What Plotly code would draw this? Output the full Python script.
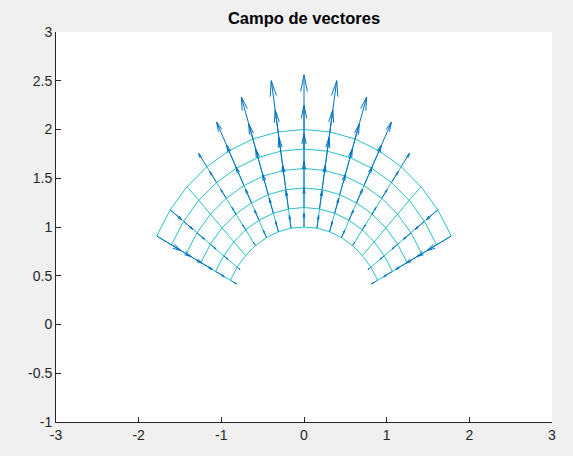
import math
import plotly.graph_objects as go

# ---- data ----
ray_angles_deg = [27, 36, 45, 54, 63, 72, 81, 90, 99, 108, 117, 126, 135, 144, 153]
radii = [1.0, 1.2, 1.4, 1.6, 1.8, 2.0]
# relative strength of the radial field along each ray (+ outward, - inward)
ray_gain = [-0.59, -0.31, 0.0, 0.31, 0.59, 0.81, 0.95, 1.0,
            0.95, 0.81, 0.59, 0.31, 0.0, -0.31, -0.59]
# arrow length on the vertical ray for each radius (data units)
radius_len = [0.14, 0.20, 0.27, 0.36, 0.45, 0.56]

x_ticks = [-3, -2, -1, 0, 1, 2, 3]
x_tick_text = ["-3", "-2", "-1", "0", "1", "2", "3"]
y_ticks = [-1, -0.5, 0, 0.5, 1, 1.5, 2, 2.5, 3]
y_tick_text = ["-1", "-0.5", "0", "0.5", "1", "1.5", "2", "2.5", "3"]

MESH_COLOR = "#27C0C7"
ARROW_COLOR = "#0072BD"
AXIS_COLOR = "#262626"

# ---- mesh ----
mx, my = [], []
for r in radii:  # arcs (polygonal through mesh nodes)
    for a in ray_angles_deg:
        t = math.radians(a)
        mx.append(r * math.cos(t)); my.append(r * math.sin(t))
    mx.append(None); my.append(None)
for a in ray_angles_deg:  # radial lines
    t = math.radians(a)
    for r in (radii[0], radii[-1]):
        mx.append(r * math.cos(t)); my.append(r * math.sin(t))
    mx.append(None); my.append(None)

# ---- quiver arrows ----
alpha, beta = 0.30, 0.24
ax_, ay_ = [], []
for a, g in zip(ray_angles_deg, ray_gain):
    t = math.radians(a)
    for r, L in zip(radii, radius_len):
        x0, y0 = r * math.cos(t), r * math.sin(t)
        u, v = g * L * math.cos(t), g * L * math.sin(t)
        x1, y1 = x0 + u, y0 + v
        ax_ += [x0, x1, None]
        ay_ += [y0, y1, None]
        if g != 0:
            ax_ += [x1 - alpha * (u + beta * v), x1, x1 - alpha * (u - beta * v), None]
            ay_ += [y1 - alpha * (v - beta * u), y1, y1 - alpha * (v + beta * u), None]

fig = go.Figure()
fig.add_trace(go.Scatter(x=mx, y=my, mode="lines",
                         line=dict(color=MESH_COLOR, width=1), hoverinfo="skip"))
fig.add_trace(go.Scatter(x=ax_, y=ay_, mode="lines",
                         line=dict(color=ARROW_COLOR, width=1), hoverinfo="skip"))

font = dict(family="Liberation Sans, Arial, sans-serif", size=14, color=AXIS_COLOR)
fig.update_layout(
    width=573, height=456,
    margin=dict(l=56, r=21, t=32, b=34),
    paper_bgcolor="#F0F0F0", plot_bgcolor="#FFFFFF",
    showlegend=False,
    font=font,
    title=dict(text="<b>Campo de vectores</b>", x=304 / 573, xanchor="center",
               y=1 - 18 / 456, yanchor="middle",
               font=dict(family="Liberation Sans, Arial, sans-serif", size=16.5, color="#000000")),
    xaxis=dict(range=[-3, 3], tickvals=x_ticks, ticktext=x_tick_text,
               ticks="inside", ticklen=5, tickcolor=AXIS_COLOR, showline=True,
               linecolor=AXIS_COLOR, linewidth=1, showgrid=False, zeroline=False,
               mirror=False, automargin=False, fixedrange=True),
    yaxis=dict(range=[-1, 3], tickvals=y_ticks, ticktext=y_tick_text,
               ticks="inside", ticklen=5, tickcolor=AXIS_COLOR, showline=True,
               linecolor=AXIS_COLOR, linewidth=1, showgrid=False, zeroline=False,
               mirror=False, automargin=False, fixedrange=True),
)
fig.write_html("out.html", config={"displayModeBar": False},
               post_script="document.body.style.margin='0';document.body.style.overflow='hidden';")
